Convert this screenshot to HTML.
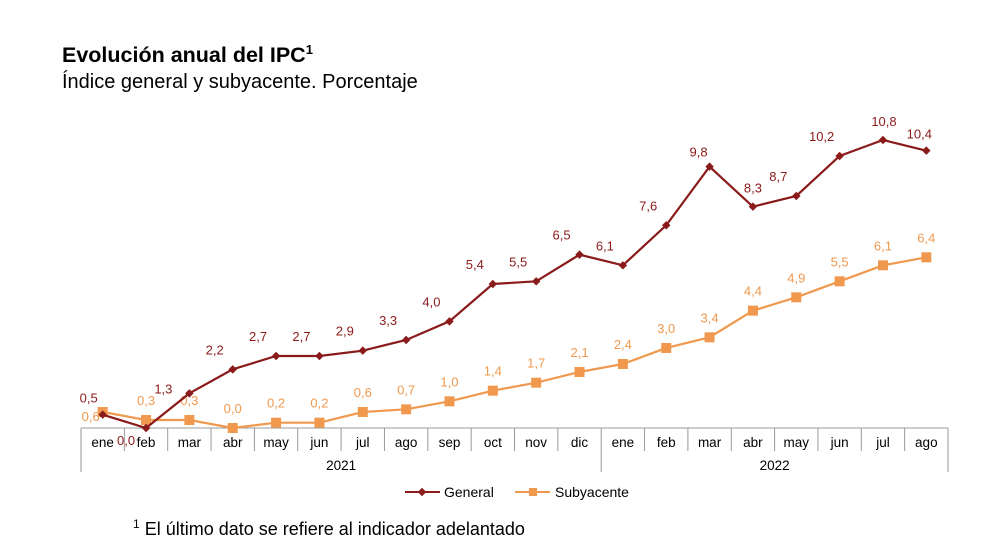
<!DOCTYPE html>
<html><head><meta charset="utf-8"><style>
body{margin:0;background:#fff;width:991px;height:559px;overflow:hidden;font-family:"Liberation Sans",Arial,sans-serif}
svg{position:absolute;left:0;top:0}
</style></head><body>
<svg width="991" height="559">
<text x="62" y="62" font-size="21.5" font-weight="bold">Evolución anual del IPC<tspan font-size="13" dy="-8">1</tspan></text>
<text x="62" y="88" font-size="20">Índice general y subyacente. Porcentaje</text>
<g id="axis"></g>
<g id="series"></g>
<g>
<g>
<line x1="405" y1="492" x2="440" y2="492" stroke="#8b1a1a" stroke-width="2"/>
<rect x="419" y="489" width="6" height="6" fill="#8b1a1a" transform="rotate(45 422 492)"/>
<text x="444" y="497" font-size="14">General</text></g>
<g>
<line x1="515" y1="492" x2="550" y2="492" stroke="#f0994e" stroke-width="2"/>
<rect x="529" y="488" width="8" height="8" fill="#f0994e"/>
<text x="555" y="497" font-size="14">Subyacente</text></g>
</g>
<text x="133" y="535" font-size="18"><tspan font-size="12" dy="-7">1</tspan><tspan dy="7"> El último dato se refiere al indicador adelantado</tspan></text>
</svg>
<script>
const months=["ene","feb","mar","abr","may","jun","jul","ago","sep","oct","nov","dic","ene","feb","mar","abr","may","jun","jul","ago"];
const years=["2021","2022"];
const general=[0.5,0.0,1.3,2.2,2.7,2.7,2.9,3.3,4.0,5.4,5.5,6.5,6.1,7.6,9.8,8.3,8.7,10.2,10.8,10.4];
const subyacente=[0.6,0.3,0.3,0.0,0.2,0.2,0.6,0.7,1.0,1.4,1.7,2.1,2.4,3.0,3.4,4.4,4.9,5.5,6.1,6.4];
const NS="http://www.w3.org/2000/svg";
const L=81,R=948,Y0=428,PX=26.67;
const bw=(R-L)/months.length;
const x=i=>L+bw*(i+0.5);
const y=v=>Y0-v*PX;
function mk(tag,attrs,parent,txt){const e=document.createElementNS(NS,tag);for(const k in attrs)e.setAttribute(k,attrs[k]);if(txt!==undefined)e.textContent=txt;parent.appendChild(e);return e;}
const ax=document.getElementById('axis');
mk('line',{x1:L,y1:Y0,x2:R,y2:Y0,stroke:'#999'},ax);
for(let i=0;i<=months.length;i++){
  const xx=L+bw*i;const full=(i===0||i===12||i===months.length);
  mk('line',{x1:xx,y1:Y0,x2:xx,y2:full?472:451,stroke:'#999'},ax);
}
months.forEach((m,i)=>{const t=mk('text',{x:x(i),y:447,'font-size':13.5,'text-anchor':'middle'},ax,m);

});
years.forEach((yr,j)=>{const a=j===0?L:L+bw*12,b=j===0?L+bw*12:R;
const t=mk('text',{x:(a+b)/2,y:470,'font-size':13.5,'text-anchor':'middle'},ax,yr);

});
const sg=document.getElementById('series');
function fmt(v){return v.toFixed(1).replace('.',',');}
function draw(vals,color,marker,name,offs){
  const pl=mk('polyline',{points:vals.map((v,i)=>x(i)+','+y(v)).join(' '),fill:'none',stroke:color,'stroke-width':2.2},sg);
  
  
  vals.forEach((v,i)=>{
    let m;
    if(marker==='d'){m=mk('rect',{x:x(i)-3,y:y(v)-3,width:6,height:6,fill:color,transform:`rotate(45 ${x(i)} ${y(v)})`},sg);}
    else{m=mk('rect',{x:x(i)-5,y:y(v)-5,width:10,height:10,fill:color},sg);}
    
    
    const o=offs(i);
    const t=mk('text',{x:x(i)+o[0],y:y(v)+o[1],'font-size':13,fill:color,'text-anchor':'middle'},sg,fmt(v));
    
    
  });
}
draw(subyacente,'#f0994e','s','subyacente',i=>i===0?[-12,9]:[0,-15]);
draw(general,'#8b1a1a','d','general',i=>{
  if(i===0)return[-14,-12];
  if(i===1)return[-20,17];
  if(i===2)return[-26,0];
  if(i===14)return[-11,-10];
  if(i===15)return[0,-14];
  if(i===18)return[1,-14];
  if(i===19)return[-7,-12];
  return[-18,-15];
});
</script>
</body></html>
